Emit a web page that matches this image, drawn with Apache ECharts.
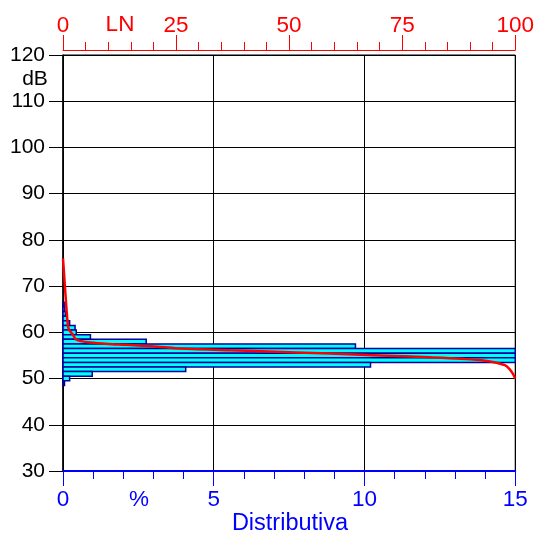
<!DOCTYPE html>
<html><head><meta charset="utf-8">
<script src="https://cdn.jsdelivr.net/npm/echarts@6/dist/echarts.min.js"></script>
<style>html,body{margin:0;padding:0;background:#fff}#c{width:537px;height:535px}</style>
</head><body><div id="c"></div>
<script>
// Distribution bars: level (dB) and percent of time
var levels = [66, 65, 64, 63, 62, 61, 60, 59, 58, 57, 56, 55, 54, 53, 52, 51, 50, 49];
var percents = [0.04, 0.06, 0.08, 0.14, 0.22, 0.40, 0.44, 0.91, 2.76, 9.70, 24.0, 25.0, 20.7, 10.2, 4.07, 0.97, 0.22, 0.05];
// Cumulative LN curve: percent exceeded and level
var lnPercent = [0, 0.4, 0.7, 1.0, 1.3, 2.2, 2.8, 4, 6, 10, 14, 21, 26, 37, 44, 59, 70, 81, 88, 92, 95, 97.7, 98.8, 99.5, 100];
var lnLevel = [76, 70.3, 66, 62.4, 60.6, 59.5, 58.5, 58.1, 57.8, 57.5, 57.3, 56.9, 56.5, 56.1, 55.9, 55.4, 55.0, 54.6, 54.3, 54.0, 53.6, 52.9, 52.0, 51.0, 50.0];
// Tick settings
var yMin = 30, yMax = 120, yStep = 10;
var pMin = 0, pMax = 15, pStep = 5;
var lnMin = 0, lnMax = 100, lnStep = 25;

var FONT = '"Liberation Sans", Arial, sans-serif';
var chart = echarts.init(document.getElementById('c'), null, {renderer: 'canvas'});
var barData = levels.map(function (d, i) { return [percents[i], d]; });
var lnData = lnPercent.map(function (p, i) { return [p, lnLevel[i]]; });

function label(text, x, y, color, size) {
  return {type: 'text', style: {text: text, x: x, y: y, font: size + 'px ' + FONT, fill: color,
    textAlign: 'center', textVerticalAlign: 'middle', verticalAlign: 'middle', align: 'center'}};
}

chart.setOption({
  animation: false,
  backgroundColor: '#fff',
  grid: {left: 63, right: 19, top: 55, bottom: 64, show: true, borderColor: '#000', borderWidth: 1, backgroundColor: 'transparent'},
  xAxis: [{
    type: 'value', position: 'bottom', min: pMin, max: pMax, interval: pStep,
    axisLine: {show: true, onZero: false, lineStyle: {color: '#0000ff', width: 2}},
    axisTick: {show: true, length: 15, lineStyle: {color: '#0000ff', width: 1}},
    minorTick: {show: true, splitNumber: 5, length: 8, lineStyle: {color: '#0000ff', width: 1}},
    axisLabel: {color: '#0000ff', fontSize: 22.5, fontFamily: FONT, margin: 17},
    splitLine: {show: true, lineStyle: {color: '#000', width: 1}}
  }, {
    type: 'value', position: 'top', offset: 5, min: lnMin, max: lnMax, interval: lnStep,
    axisLine: {show: true, onZero: false, lineStyle: {color: '#ff0000', width: 1}},
    axisTick: {show: true, length: 15, lineStyle: {color: '#ff0000', width: 1}},
    minorTick: {show: true, splitNumber: 5, length: 8, lineStyle: {color: '#ff0000', width: 1}},
    axisLabel: {color: '#ff0000', fontSize: 22.5, fontFamily: FONT, margin: 13},
    splitLine: {show: false}
  }],
  yAxis: [{
    type: 'value', min: yMin, max: yMax, interval: yStep,
    axisLine: {show: true, onZero: false, lineStyle: {color: '#000', width: 1.5}},
    axisTick: {show: true, length: 14, lineStyle: {color: '#000', width: 1}},
    axisLabel: {color: '#000', fontSize: 21, fontFamily: FONT, margin: 18},
    splitLine: {show: true, lineStyle: {color: '#000', width: 1}}
  }],
  graphic: [
    label('dB', 35, 79, '#000', 21),
    label('%', 139, 500, '#0000ff', 22.5),
    label('Distributiva', 290, 524, '#0000ff', 23.5),
    label('LN', 120, 25, '#ff0000', 22.5)
  ],
  series: [{
    type: 'custom', xAxisIndex: 0, yAxisIndex: 0, z: 3,
    encode: {x: 0, y: 1},
    data: barData,
    renderItem: function (params, api) {
      var v = api.value(0), d = api.value(1);
      var p0 = api.coord([0, d + 0.5]);
      var p1 = api.coord([v, d - 0.5]);
      var cs = params.coordSys;
      var shape = echarts.graphic.clipRectByRect(
        {x: p0[0], y: p0[1], width: p1[0] - p0[0], height: p1[1] - p0[1]},
        {x: cs.x, y: cs.y, width: cs.width, height: cs.height});
      if (!shape) return null;
      return {type: 'rect', shape: shape, style: {fill: '#00ffff', stroke: '#000099', lineWidth: 1.5}};
    }
  }, {
    type: 'line', xAxisIndex: 1, yAxisIndex: 0, z: 5,
    data: lnData, showSymbol: false, symbol: 'none', smooth: 0.3,
    lineStyle: {color: '#ff0000', width: 2.5}
  }]
});
</script></body></html>
